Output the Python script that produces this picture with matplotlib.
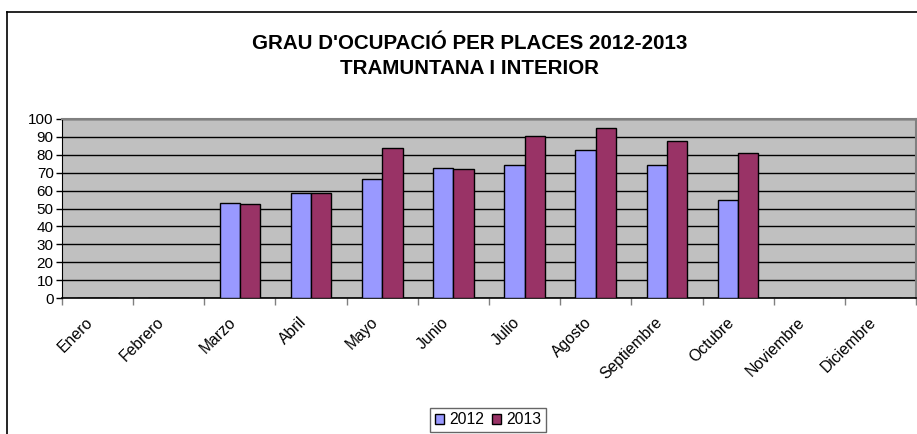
import matplotlib
matplotlib.use("Agg")
import matplotlib.pyplot as plt
import matplotlib.transforms as mtransforms
from matplotlib.lines import Line2D
from matplotlib.patches import Patch
import numpy as np

# --- data ---
months = ["Enero", "Febrero", "Marzo", "Abril", "Mayo", "Junio", "Julio",
          "Agosto", "Septiembre", "Octubre", "Noviembre", "Diciembre"]
vals_2012 = [0, 0, 53, 58.7, 66.5, 72.8, 74.3, 82.9, 74.3, 54.6, 0, 0]
vals_2013 = [0, 0, 52.4, 58.7, 83.6, 72.1, 90.7, 94.8, 87.9, 80.8, 0, 0]
series_names = ["2012", "2013"]
y_ticks = list(range(0, 101, 10))

plt.rcParams['font.family'] = ['Liberation Sans', 'DejaVu Sans']

fig = plt.figure(figsize=(9.17, 4.34), dpi=100)
fig.patch.set_facecolor("white")

# chart frame (cropped on right / bottom in the reference)
fig.add_artist(Line2D([7 / 917, 7 / 917], [0, 1 - 12 / 434], color="black", lw=1.2,
                      transform=fig.transFigure))
fig.add_artist(Line2D([7 / 917, 1], [1 - 12 / 434, 1 - 12 / 434], color="black", lw=1.2,
                      transform=fig.transFigure))

ax = fig.add_axes([62 / 917, 1 - 298 / 434, (916 - 62) / 917, (298 - 119) / 434])
ax.set_facecolor("#C0C0C0")

x = np.arange(len(months))
w = 0.286
ax.bar(x - w / 2, vals_2012, w, color="#9999FF", edgecolor="black", lw=1, zorder=3)
ax.bar(x + w / 2, vals_2013, w, color="#993366", edgecolor="black", lw=1, zorder=3)

ax.set_xlim(-0.5, len(months) - 0.5)
ax.set_ylim(0, 100)
ax.set_yticks(y_ticks)
ax.tick_params(axis="y", labelsize=11, length=4, width=1, pad=2)
ax.yaxis.grid(True, color="black", lw=1, zorder=1)
ax.set_axisbelow(True)

ax.set_xticks(x)
ax.set_xticklabels(months, rotation=45, ha="right", va="top",
                   rotation_mode="anchor", fontsize=11.3)
ax.tick_params(axis="x", length=0, pad=12)
# shift labels a little to the left, like the original
shift = mtransforms.ScaledTranslation(-12 / 100, 0, fig.dpi_scale_trans)
for lab in ax.get_xticklabels():
    lab.set_transform(lab.get_transform() + shift)
ax.set_xticks(np.arange(-0.5, len(months)), minor=True)
ax.tick_params(axis="x", which="minor", length=5, width=1, color="#808080")

for side in ["top", "right"]:
    ax.spines[side].set_color("#808080")
    ax.spines[side].set_linewidth(1.5)
ax.spines["left"].set_color("black")
ax.spines["bottom"].set_color("black")
ax.spines["bottom"].set_linewidth(1.2)

fig.text(470 / 917, 1 - 56 / 434,
         "GRAU D'OCUPACIÓ PER PLACES 2012-2013\nTRAMUNTANA I INTERIOR",
         ha="center", va="center", fontsize=14.8, fontweight="bold", linespacing=1.35)

handles = [Patch(facecolor="#9999FF", edgecolor="black"),
           Patch(facecolor="#993366", edgecolor="black")]
leg = fig.legend(handles, series_names, loc="center", bbox_to_anchor=(488 / 917, 1 - 420 / 434),
                 ncol=2, fontsize=11.3, frameon=True, fancybox=False,
                 handlelength=0.6, handleheight=0.6, handletextpad=0.3,
                 columnspacing=0.5, borderpad=0.3, borderaxespad=0)
leg.get_frame().set_edgecolor("#404040")
leg.get_frame().set_linewidth(1)

fig.savefig("out.png", dpi=100, facecolor="white")
